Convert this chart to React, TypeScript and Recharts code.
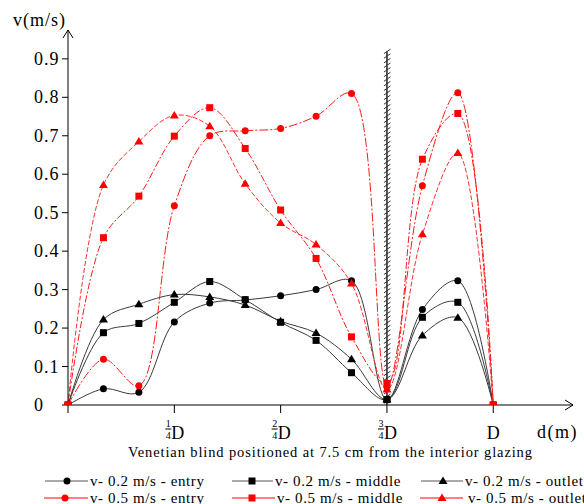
import React from 'react';
import { LineChart, Line, XAxis, YAxis, ReferenceLine, ReferenceDot } from 'recharts';

// distance along the cavity, in twelfths of D
const positions = [0, 1, 2, 3, 4, 5, 6, 7, 8, 9, 10, 11, 12];
const xTicks = [0, 3, 6, 9, 12];
const xTickLabels = ['', '1/4D', '2/4D', '3/4D', 'D'];
const yTicks = [0, 0.1, 0.2, 0.3, 0.4, 0.5, 0.6, 0.7, 0.8, 0.9];

const entry02 = [0, 0.042, 0.033, 0.216, 0.265, 0.273, 0.284, 0.3, 0.323, 0.014, 0.248, 0.323, 0];
const middle02 = [0, 0.188, 0.212, 0.267, 0.321, 0.274, 0.215, 0.168, 0.084, 0.014, 0.228, 0.267, 0];
const outlet02 = [0, 0.222, 0.262, 0.287, 0.281, 0.26, 0.218, 0.187, 0.119, 0.014, 0.181, 0.227, 0];
const entry05 = [0, 0.119, 0.05, 0.518, 0.7, 0.713, 0.719, 0.751, 0.81, 0.048, 0.57, 0.812, 0];
const middle05 = [0, 0.435, 0.543, 0.699, 0.773, 0.667, 0.507, 0.381, 0.177, 0.056, 0.639, 0.758, 0];
const outlet05 = [0, 0.572, 0.685, 0.753, 0.725, 0.575, 0.473, 0.417, 0.316, 0.04, 0.444, 0.655, 0];

const blindAt = 9;
const blindTop = 0.92;

const FONT = '"Liberation Serif", "Times New Roman", serif';

const SERIES = [
  { key: 'entry02', name: 'v- 0.2 m/s - entry', values: entry02, mark: '#000', stroke: '#3a3a3a', shape: 'circle', dash: undefined },
  { key: 'middle02', name: 'v- 0.2 m/s - middle', values: middle02, mark: '#000', stroke: '#3a3a3a', shape: 'square', dash: undefined },
  { key: 'outlet02', name: 'v- 0.2 m/s - outlet', values: outlet02, mark: '#000', stroke: '#3a3a3a', shape: 'triangle', dash: undefined },
  { key: 'entry05', name: 'v- 0.5 m/s - entry', values: entry05, mark: '#ff0000', stroke: '#ff1a1a', shape: 'circle', dash: '9 2 2 2' },
  { key: 'middle05', name: 'v- 0.5 m/s - middle', values: middle05, mark: '#ff0000', stroke: '#ff1a1a', shape: 'square', dash: '7 2 2 2' },
  { key: 'outlet05', name: 'v- 0.5 m/s - outlet', values: outlet05, mark: '#ff0000', stroke: '#ff3030', shape: 'triangle', dash: '5 2' },
];

const data = positions.map((d, i) => {
  const row: Record<string, number> = { d };
  SERIES.forEach((s) => {
    row[s.key] = s.values[i];
  });
  return row;
});

// centripetal catmull-rom, same maths as d3's curveCatmullRom (alpha 0.5)
function catmullRom(context: any) {
  const alpha = 0.5;
  let x0 = NaN, y0 = NaN, x1 = NaN, y1 = NaN, x2 = NaN, y2 = NaN;
  let l01a = 0, l12a = 0, l23a = 0, l01_2a = 0, l12_2a = 0, l23_2a = 0;
  let state = 0;

  const seg = (x: number, y: number) => {
    let cx1 = x1, cy1 = y1, cx2 = x2, cy2 = y2;
    if (l01a > 1e-12) {
      const a = 2 * l01_2a + 3 * l01a * l12a + l12_2a;
      const n = 3 * l01a * (l01a + l12a);
      cx1 = (x1 * a - x0 * l12_2a + x2 * l01_2a) / n;
      cy1 = (y1 * a - y0 * l12_2a + y2 * l01_2a) / n;
    }
    if (l23a > 1e-12) {
      const b = 2 * l23_2a + 3 * l23a * l12a + l12_2a;
      const m = 3 * l23a * (l23a + l12a);
      cx2 = (x2 * b + x1 * l23_2a - x * l12_2a) / m;
      cy2 = (y2 * b + y1 * l23_2a - y * l12_2a) / m;
    }
    context.bezierCurveTo(cx1, cy1, cx2, cy2, x2, y2);
  };

  const curve = {
    areaStart() {},
    areaEnd() {},
    lineStart() {
      x0 = x1 = x2 = y0 = y1 = y2 = NaN;
      l01a = l12a = l23a = l01_2a = l12_2a = l23_2a = 0;
      state = 0;
    },
    lineEnd() {
      if (state === 2) context.lineTo(x2, y2);
      else if (state === 3) curve.point(x2, y2);
    },
    point(xIn: number, yIn: number) {
      const x = +xIn, y = +yIn;
      if (state) {
        const dx = x2 - x, dy = y2 - y;
        l23_2a = Math.pow(dx * dx + dy * dy, alpha);
        l23a = Math.sqrt(l23_2a);
      }
      if (state === 0) {
        state = 1;
        context.moveTo(x, y);
      } else if (state === 1) {
        state = 2;
      } else {
        state = 3;
        seg(x, y);
      }
      l01a = l12a; l12a = l23a;
      l01_2a = l12_2a; l12_2a = l23_2a;
      x0 = x1; x1 = x2; x2 = x;
      y0 = y1; y1 = y2; y2 = y;
    },
  };
  return curve;
}

const Marker = ({ cx, cy, shape, color }: any) => {
  if (cx == null || cy == null) return null;
  if (shape === 'circle') return <circle cx={cx} cy={cy} r={3.5} fill={color} />;
  if (shape === 'square') return <rect x={cx - 3.5} y={cy - 3.5} width={7} height={7} fill={color} />;
  return <polygon points={`${cx},${cy - 4.5} ${cx + 4.5},${cy + 3} ${cx - 4.5},${cy + 3}`} fill={color} />;
};

const YTick = ({ x, y, payload }: any) => (
  <text x={x - 26} y={y + 6} fontSize={18} fontFamily={FONT} letterSpacing={1} fill="#000">
    {payload.value === 0 ? '0' : payload.value.toFixed(1)}
  </text>
);

const XTick = ({ x, y, index }: any) => {
  const label = xTickLabels[index] ?? '';
  if (!label) return null;
  const base = y + 24;
  if (!label.includes('/')) {
    return (
      <text x={x} y={base} textAnchor="middle" fontSize={18} fontFamily={FONT} fill="#000">
        {label}
      </text>
    );
  }
  const [num, rest] = label.split('/');
  const den = rest.replace('D', '');
  return (
    <g>
      <text x={x - 6} y={base - 12} textAnchor="middle" fontSize={10} fontFamily={FONT} fill="#000">{num}</text>
      <line x1={x - 9} x2={x - 3} y1={base - 10} y2={base - 10} stroke="#000" strokeWidth={1} />
      <text x={x - 6} y={base} textAnchor="middle" fontSize={10} fontFamily={FONT} fill="#000">{den}</text>
      <text x={x - 3} y={base} fontSize={18} fontFamily={FONT} fill="#000">D</text>
    </g>
  );
};

// hatched venetian blind
const Blind = (props: any) => {
  const { x1, y1, y2 } = props;
  const top = Math.min(y1, y2);
  const bottom = Math.max(y1, y2);
  const hatches = [];
  for (let y = top; y < bottom; y += 4.6) {
    hatches.push(<line key={y} x1={x1 - 3} y1={y + 2.5} x2={x1 + 3.5} y2={y - 2} stroke="#333" strokeWidth={1} />);
  }
  return (
    <g>
      <line x1={x1} x2={x1} y1={top} y2={bottom} stroke="#222" strokeWidth={1.5} />
      {hatches}
    </g>
  );
};

const ArrowRight = ({ cx, cy }: any) => (
  <polyline points={`${cx - 8},${cy - 5} ${cx},${cy} ${cx - 8},${cy + 5}`} fill="none" stroke="#000" strokeWidth={1} />
);
const ArrowUp = ({ cx, cy }: any) => (
  <polyline points={`${cx - 5},${cy + 8} ${cx},${cy} ${cx + 5},${cy + 8}`} fill="none" stroke="#000" strokeWidth={1} />
);

const LEGEND_POS = [
  { x1: 45, x2: 88, m: 67, t: 90, y: 481 },
  { x1: 232, x2: 273, m: 252, t: 275, y: 481 },
  { x1: 421, x2: 463, m: 443, t: 465, y: 481 },
  { x1: 44, x2: 88, m: 65, t: 90, y: 498 },
  { x1: 232, x2: 275, m: 252, t: 277, y: 498 },
  { x1: 420, x2: 463, m: 442, t: 468, y: 498 },
];

export default function App() {
  return (
    <div style={{ position: 'absolute', left: 0, top: 0, width: 584, height: 504, background: '#fff', overflow: 'hidden' }}>
      <LineChart width={584} height={445} data={data} margin={{ top: 30, right: 11, left: 0, bottom: 0 }}>
        <XAxis
          dataKey="d"
          type="number"
          domain={[0, 14.25]}
          ticks={xTicks}
          tick={<XTick />}
          tickSize={8}
          axisLine={{ stroke: '#000' }}
          tickLine={{ stroke: '#000' }}
          height={40}
          interval={0}
        />
        <YAxis
          type="number"
          domain={[0, 0.975]}
          ticks={yTicks}
          tick={<YTick />}
          tickSize={6}
          axisLine={{ stroke: '#000' }}
          tickLine={{ stroke: '#000' }}
          width={68}
          interval={0}
          allowDataOverflow
        />
        <ReferenceLine segment={[{ x: blindAt, y: 0 }, { x: blindAt, y: blindTop }]} shape={<Blind />} />
        <ReferenceDot x={14.25} y={0} r={0} shape={<ArrowRight />} ifOverflow="visible" />
        <ReferenceDot x={0} y={0.975} r={0} shape={<ArrowUp />} ifOverflow="visible" />
        {SERIES.map((s) => (
          <Line
            key={s.key}
            dataKey={s.key}
            type={catmullRom as any}
            stroke={s.stroke}
            strokeWidth={1}
            strokeDasharray={s.dash}
            isAnimationActive={false}
            dot={(p: any) => <Marker key={`${s.key}-${p.index}`} cx={p.cx} cy={p.cy} shape={s.shape} color={s.mark} />}
            activeDot={false}
          />
        ))}
      </LineChart>
      <svg width={584} height={504} style={{ position: 'absolute', left: 0, top: 0, pointerEvents: 'none' }}>
        <text x={13} y={26} fontSize={18} fontFamily={FONT} letterSpacing={1} fill="#000">v(m/s)</text>
        <text x={537} y={438} fontSize={18} fontFamily={FONT} letterSpacing={1.5} fill="#000">d(m)</text>
        <text x={330} y={457} textAnchor="middle" fontSize={14.5} fontFamily={FONT} textLength={404} lengthAdjust="spacing" fill="#000">
          Venetian blind positioned at 7.5 cm from the interior glazing
        </text>
        {SERIES.map((s, i) => {
          const p = LEGEND_POS[i];
          return (
            <g key={s.key}>
              <line x1={p.x1} x2={p.x2} y1={p.y} y2={p.y} stroke={s.mark === '#000' ? '#555' : '#ff0000'} strokeWidth={1} />
              <Marker cx={p.m} cy={p.y} shape={s.shape} color={s.mark} />
              <text x={p.t} y={p.y + 5} fontSize={15} fontFamily={FONT} letterSpacing={0.6} fill="#000">{s.name}</text>
            </g>
          );
        })}
      </svg>
    </div>
  );
}
